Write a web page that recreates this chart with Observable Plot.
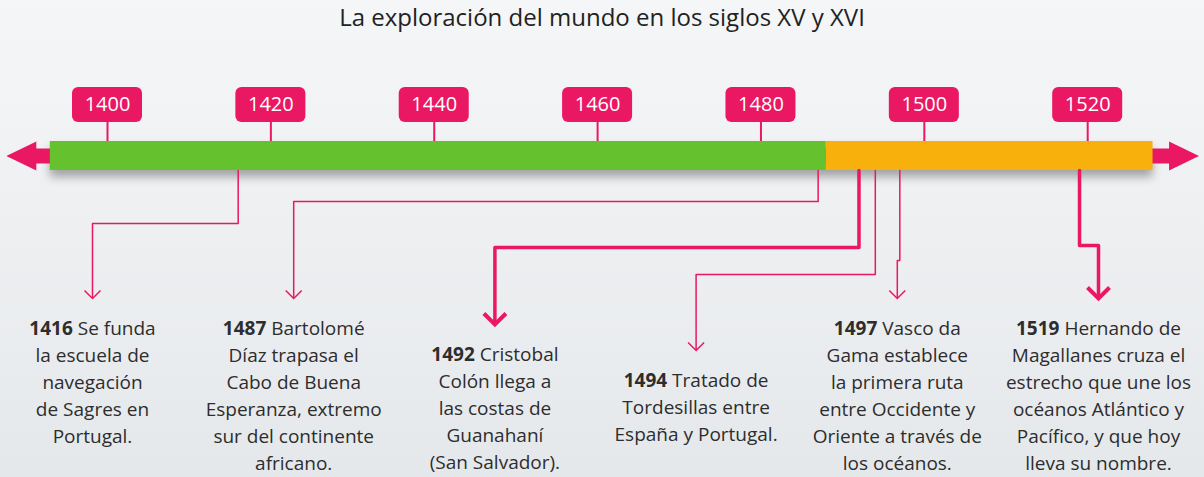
<!DOCTYPE html>
<html><head><meta charset="utf-8">
<script src="https://cdn.jsdelivr.net/npm/d3@7"></script>
<script src="https://cdn.jsdelivr.net/npm/@observablehq/plot@0.6"></script>
<style>
html,body{margin:0;padding:0;}
body{width:1204px;height:477px;overflow:hidden;background:linear-gradient(#f5f6f7,#e5e8eb);font-family:"Open Sans",sans-serif;}
#title{height:40px;line-height:34px;text-align:center;font-size:24px;color:#222;}
#chart svg{display:block;}
</style></head><body>
<div id="title">La exploración del mundo en los siglos XV y XVI</div>
<div id="chart"></div>
<script>
// ---- data ----
const tickYears = [1400, 1420, 1440, 1460, 1480, 1500, 1520];
const tickLabels = ["1400", "1420", "1440", "1460", "1480", "1500", "1520"];
const periodStart = [1393, 1488];
const periodEnd = [1488, 1528];
const periodColors = ["#66c12e", "#f8b00d"];
const eventYears = [1416, 1487, 1492, 1494, 1497, 1519];
const eventTexts = [
  "1416 Se funda\nla escuela de\nnavegación\nde Sagres en\nPortugal.",
  "1487 Bartolomé\nDíaz trapasa el\nCabo de Buena\nEsperanza, extremo\nsur del continente\nafricano.",
  "1492 Cristobal\nColón llega a\nlas costas de\nGuanahaní\n(San Salvador).",
  "1494 Tratado de\nTordesillas entre\nEspaña y Portugal.",
  "1497 Vasco da\nGama establece\nla primera ruta\nentre Occidente y\nOriente a través de\nlos océanos.",
  "1519 Hernando de\nMagallanes cruza el\nestrecho que une los\nocéanos Atlántico y\nPacífico, y que hoy\nlleva su nombre."
];
const eventEmphasis = [false, false, true, false, false, true];

// ---- layout ----
const W = 1204, H = 437;
const PINK = "#ea1763", TEXT = "#2d2d2d";
const xOpts = {domain: [1386.9, 1534.3], range: [0, W], axis: null};
const xs = Plot.scale({x: xOpts});
const BAR_TOP = 101, BAR_BOT = 130, BAR_MID = 115.5;
const BOX_TOP = 47, BOX_BOT = 82;
const slotX = i => 92 + i * 201.2;
const connectorLevel = [183, 161, 207, 234, 220, 205];
const textRow = [0, 0, 1, 2, 0, 0];
const firstLineY = e => 287 + textRow[e.i] * 26;
const tipY = e => firstLineY(e) - 29;

const periods = periodStart.map((s, i) => ({start: s, end: periodEnd[i], color: periodColors[i]}));
const events = eventYears.map((year, i) => ({i, year, text: eventTexts[i], strong: eventEmphasis[i], labelX: xs.invert(slotX(i))}));
const paths = events.flatMap(e => [
  {i: e.i, strong: e.strong, x: e.year, y: BAR_BOT},
  {i: e.i, strong: e.strong, x: e.year, y: connectorLevel[e.i]},
  {i: e.i, strong: e.strong, x: e.labelX, y: connectorLevel[e.i]},
  {i: e.i, strong: e.strong, x: e.labelX, y: tipY(e) - 1}
]);
const tips = events.map(e => ({strong: e.strong, x: e.labelX, y: tipY(e)}));

const arrowHead = {draw(ctx, size) {const r = Math.sqrt(size / Math.PI); ctx.moveTo(r, 0); ctx.lineTo(-r, -r * 0.97); ctx.lineTo(-r, r * 0.97); ctx.closePath();}};
const chevron = {draw(ctx, size) {const r = Math.sqrt(size / Math.PI); ctx.moveTo(-r, -r); ctx.lineTo(0, 0); ctx.lineTo(r, -r);}};

const svg = Plot.plot({
  width: W, height: H, margin: 0,
  x: xOpts,
  y: {type: "identity", axis: null},
  style: {background: "transparent", fontFamily: "'Open Sans', sans-serif", overflow: "visible"},
  marks: [
    // shadow (first rect mark)
    Plot.rect(periods, {x1: "start", x2: "end", y1: BAR_TOP, y2: BAR_BOT, fill: "#000", fillOpacity: 0.32, dy: 7}),
    // pink arrow shaft and heads
    Plot.ruleY([BAR_MID], {x1: periodStart[0], x2: periodEnd[periodEnd.length - 1], stroke: PINK, strokeWidth: 15, insetLeft: -20, insetRight: -20}),
    Plot.dot([periodStart[0]], {x: d => d, y: BAR_MID, r: 15, symbol: arrowHead, rotate: 180, fill: PINK, stroke: "none", dx: -29}),
    Plot.dot([periodEnd[periodEnd.length - 1]], {x: d => d, y: BAR_MID, r: 15, symbol: arrowHead, fill: PINK, stroke: "none", dx: 31}),
    // tick boxes
    Plot.ruleX(tickYears, {x: d => d, y1: BOX_BOT, y2: BAR_TOP, stroke: PINK, strokeWidth: 2}),
    Plot.rect(tickYears, {x1: d => d, x2: d => d, y1: BOX_TOP, y2: BOX_BOT, insetLeft: -35, insetRight: -35, rx: 6, fill: PINK}),
    Plot.text(tickYears, {x: d => d, y: (BOX_TOP + BOX_BOT) / 2, text: (d, i) => tickLabels[i], fill: "white", fontSize: 20, textAnchor: "middle"}),
    // bar
    Plot.rect(periods, {x1: "start", x2: "end", y1: BAR_TOP, y2: BAR_BOT, fill: "color"}),
    // connectors
    Plot.line(paths.filter(p => !p.strong), {x: "x", y: "y", z: "i", stroke: PINK, strokeWidth: 1.5}),
    Plot.line(paths.filter(p => p.strong), {x: "x", y: "y", z: "i", stroke: PINK, strokeWidth: 3.5}),
    Plot.dot(tips.filter(t => !t.strong), {x: "x", y: "y", r: 8, symbol: chevron, fill: "none", stroke: PINK, strokeWidth: 1.5}),
    Plot.dot(tips.filter(t => t.strong), {x: "x", y: "y", r: 11, symbol: chevron, fill: "none", stroke: PINK, strokeWidth: 4}),
    // event texts
    Plot.text(events, {x: "labelX", y: e => firstLineY(e) - 12, text: "text", lineAnchor: "top", lineHeight: 1.42, fontSize: 19, fill: TEXT, textAnchor: "middle"})
  ]
});
document.getElementById("chart").appendChild(svg);

// blur for the shadow
const root = d3.select(svg);
const f = root.insert("defs", ":first-child").append("filter").attr("id", "barblur")
  .attr("filterUnits", "userSpaceOnUse").attr("x", 0).attr("y", 60).attr("width", W).attr("height", 140);
f.append("feGaussianBlur").attr("stdDeviation", 5);
const rectGroups = root.selectAll('g[aria-label="rect"]').nodes();
if (rectGroups.length) rectGroups[0].setAttribute("filter", "url(#barblur)");

// bold years on the first line of each event text
const textGroups = root.selectAll('g[aria-label="text"]').nodes();
const evG = textGroups[textGroups.length - 1];
d3.select(evG).selectAll("text").each(function() {
  const first = this.querySelector("tspan") || this;
  const s = first.textContent;
  const k = s.indexOf(" ");
  first.textContent = "";
  const b = document.createElementNS("http://www.w3.org/2000/svg", "tspan");
  b.setAttribute("font-weight", "700");
  b.textContent = s.slice(0, k);
  first.appendChild(b);
  first.appendChild(document.createTextNode(s.slice(k)));
});
</script>
</body></html>
